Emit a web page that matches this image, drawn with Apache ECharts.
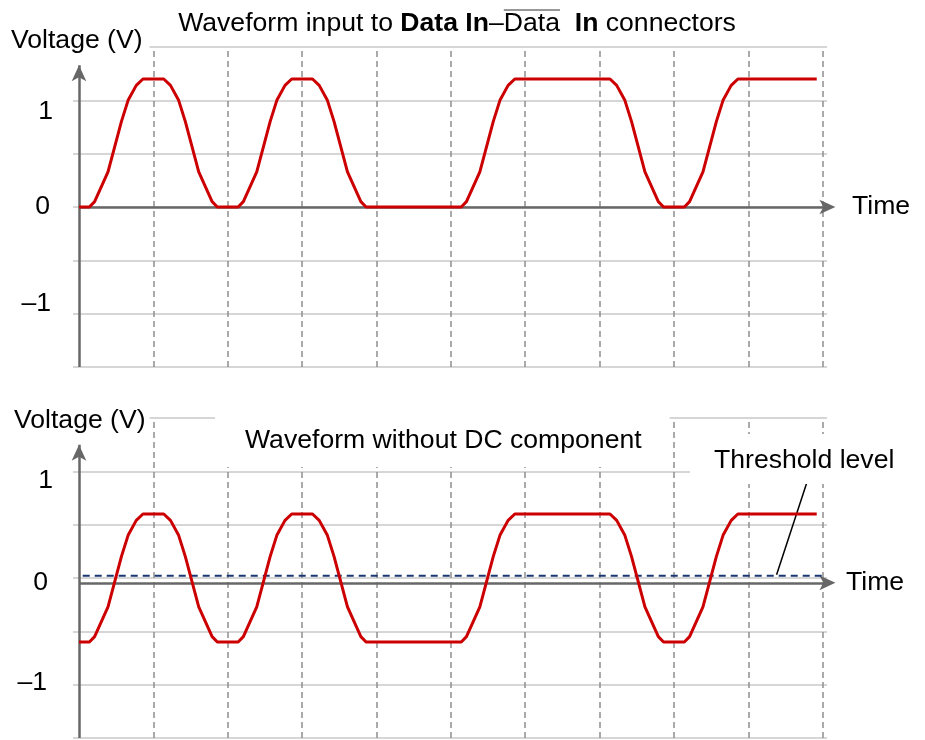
<!DOCTYPE html>
<html><head><meta charset="utf-8">
<script src="https://cdn.jsdelivr.net/npm/echarts@6/dist/echarts.min.js"></script>
<style>html,body{margin:0;padding:0;background:#fff}#c{width:925px;height:740px}</style>
</head><body><div id="c"></div>
<script>
// ---------- data ----------
const timeGridTicks = [1, 2, 3, 4, 5, 6, 7, 8, 9, 10];
const yTickValues = [1, 0, -1];
const yTickLabels = ['1', '0', '–1'];

// Waveform input to Data In – Data In connectors (time units, volts)
const topWave = [
  [0, 0], [0.14, 0], [0.21, 0.05], [0.39, 0.33], [0.57, 0.8], [0.66, 1.0], [0.77, 1.14], [0.86, 1.2],
  [1.14, 1.2], [1.23, 1.14], [1.34, 1.0], [1.43, 0.8], [1.61, 0.33], [1.79, 0.05], [1.86, 0],
  [2.14, 0], [2.21, 0.05], [2.39, 0.33], [2.57, 0.8], [2.66, 1.0], [2.77, 1.14], [2.86, 1.2],
  [3.14, 1.2], [3.23, 1.14], [3.34, 1.0], [3.43, 0.8], [3.61, 0.33], [3.79, 0.05], [3.86, 0],
  [5.14, 0], [5.21, 0.05], [5.39, 0.33], [5.57, 0.8], [5.66, 1.0], [5.77, 1.14], [5.86, 1.2],
  [7.14, 1.2], [7.23, 1.14], [7.34, 1.0], [7.43, 0.8], [7.61, 0.33], [7.79, 0.05], [7.86, 0],
  [8.14, 0], [8.21, 0.05], [8.39, 0.33], [8.57, 0.8], [8.66, 1.0], [8.77, 1.14], [8.86, 1.2],
  [9.92, 1.2]
];
// Waveform without DC component
const bottomWave = [
  [0, -0.6], [0.14, -0.6], [0.21, -0.55], [0.39, -0.27], [0.57, 0.2], [0.66, 0.4], [0.77, 0.54], [0.86, 0.6],
  [1.14, 0.6], [1.23, 0.54], [1.34, 0.4], [1.43, 0.2], [1.61, -0.27], [1.79, -0.55], [1.86, -0.6],
  [2.14, -0.6], [2.21, -0.55], [2.39, -0.27], [2.57, 0.2], [2.66, 0.4], [2.77, 0.54], [2.86, 0.6],
  [3.14, 0.6], [3.23, 0.54], [3.34, 0.4], [3.43, 0.2], [3.61, -0.27], [3.79, -0.55], [3.86, -0.6],
  [5.14, -0.6], [5.21, -0.55], [5.39, -0.27], [5.57, 0.2], [5.66, 0.4], [5.77, 0.54], [5.86, 0.6],
  [7.14, 0.6], [7.23, 0.54], [7.34, 0.4], [7.43, 0.2], [7.61, -0.27], [7.79, -0.55], [7.86, -0.6],
  [8.14, -0.6], [8.21, -0.55], [8.39, -0.27], [8.57, 0.2], [8.66, 0.4], [8.77, 0.54], [8.86, 0.6],
  [9.92, 0.6]
];
const thresholdLevel = 0.02;
const thresholdSpan = [0.05, 9.99];
const leaderLine = [[9.785, 0.89], [9.38, 0.03]];

// axis-line extents (data units)
const topTimeAxisLevel = 0;
const bottomTimeAxisLevel = -0.045;
const timeAxisEnd = 10.05;
const topYAxisSpan = [-1.5, 1.33];
const bottomYAxisSpan = [-1.5, 1.25];

// ---------- layout / style ----------
const FONT = '"Liberation Sans", Arial, sans-serif';
const FS = 26.6;
const xMin = -0.0807, xMax = 10.058;

const chart = echarts.init(document.getElementById('c'), null, {renderer: 'canvas'});

function yLabelFormatter(keys) {
  return function (v) {
    const i = yTickValues.findIndex(t => Math.abs(t - v) < 1e-9);
    if (i < 0) return '';
    return '{' + keys[i] + '|' + yTickLabels[i] + '}';
  };
}
const lblBase = {fontSize: FS, fontFamily: FONT, color: '#000', lineHeight: 30};
function yAxisDef(gi, keys, rich) {
  return {
    gridIndex: gi, type: 'value', min: -1.5, max: 1.5, interval: 0.5,
    axisLine: {show: false}, axisTick: {show: false},
    splitLine: {show: true, lineStyle: {color: '#c9c9c9', width: 1.5}},
    axisLabel: {margin: 20, fontSize: FS, fontFamily: FONT, color: '#000',
      formatter: yLabelFormatter(keys), rich: rich}
  };
}
function xAxisDef(gi) {
  return {gridIndex: gi, type: 'value', min: xMin, max: xMax, show: false};
}

function gridSeries(p) {
  return {
    type: 'line', xAxisIndex: p, yAxisIndex: p, data: [], z: 1, silent: true, animation: false,
    markLine: {
      z: 1, silent: true, symbol: 'none', animation: false, label: {show: false},
      lineStyle: {color: '#8f8f8f', type: [6, 4], width: 1.5},
      data: timeGridTicks.map(t => ({xAxis: t}))
    }
  };
}
function axesSeries(p, ySpan, tLevel) {
  return {
    type: 'line', xAxisIndex: p, yAxisIndex: p, data: [], z: 2, silent: true, animation: false,
    markLine: {
      z: 2, silent: true, animation: false, label: {show: false},
      symbol: ['none', 'arrow'], symbolSize: [11, 16],
      lineStyle: {color: '#676767', type: 'solid', width: 2.5},
      data: [
        [{coord: [0, ySpan[0]]}, {coord: [0, ySpan[1]]}],
        [{coord: [0, tLevel]}, {coord: [timeAxisEnd, tLevel], symbolOffset: [0, -9]}]
      ]
    }
  };
}
function waveSeries(p, data) {
  return {
    type: 'line', xAxisIndex: p, yAxisIndex: p, data: data, z: 6, symbol: 'none', silent: true,
    animation: false, lineStyle: {color: '#cc0000', width: 3, join: 'round'}
  };
}

// title measurement for overline
const cv = document.createElement('canvas').getContext('2d');
function mw(t, bold) { cv.font = (bold ? 'bold ' : '') + FS + 'px ' + FONT; return cv.measureText(t).width; }
const tParts = [['Waveform input to ', false], ['Data In', true], ['–', false], ['Data', false], ['  ', false], ['In', true], [' connectors', false]];
const tW = tParts.reduce((s, p) => s + mw(p[0], p[1]), 0);
const tX0 = 457 - tW / 2;
const olX1 = tX0 + mw(tParts[0][0], false) + mw(tParts[1][0], true) + mw(tParts[2][0], false);
const olX2 = olX1 + mw('Data', false);

function text(x, y, str, extra) {
  return {
    type: 'text', x: x, y: y, z: 100, silent: true,
    style: Object.assign({text: str, fontSize: FS, fontFamily: FONT, fill: '#000',
      align: 'left', verticalAlign: 'middle'}, extra || {})
  };
}

const option = {
  animation: false,
  backgroundColor: '#fff',
  grid: [
    {left: 73, top: 47, width: 754, height: 320},
    {left: 73, top: 418, width: 754, height: 320}
  ],
  xAxis: [xAxisDef(0), xAxisDef(1)],
  yAxis: [
    yAxisDef(0, ['a', 'b', 'c'], {
      a: Object.assign({padding: [22, 0, 0, 0]}, lblBase),
      b: Object.assign({padding: [0, 3, 0, 0]}, lblBase),
      c: Object.assign({padding: [0, 2, 20, 0]}, lblBase)
    }),
    yAxisDef(1, ['a', 'b', 'c'], {
      a: Object.assign({padding: [19, 0, 0, 0]}, lblBase),
      b: Object.assign({padding: [9, 5, 0, 0]}, lblBase),
      c: Object.assign({padding: [0, 6, 4, 0]}, lblBase)
    })
  ],
  series: [
    gridSeries(0), gridSeries(1),
    axesSeries(0, topYAxisSpan, topTimeAxisLevel),
    axesSeries(1, bottomYAxisSpan, bottomTimeAxisLevel),
    {
      type: 'line', xAxisIndex: 1, yAxisIndex: 1, z: 3, symbol: 'none', silent: true, animation: false,
      data: [[thresholdSpan[0], thresholdLevel], [thresholdSpan[1], thresholdLevel]],
      lineStyle: {color: '#1a3670', width: 2, type: [7, 5]}
    },
    {
      type: 'line', xAxisIndex: 1, yAxisIndex: 1, z: 6, symbol: 'none', silent: true, animation: false,
      data: leaderLine, lineStyle: {color: '#000', width: 1.5}
    },
    waveSeries(0, topWave),
    waveSeries(1, bottomWave)
  ],
  graphic: {elements: [
    {
      type: 'text', x: tX0, y: 24, z: 100, silent: true,
      style: {
        text: '{n|Waveform input to }{b|Data In}{n|–}{n|Data}{n|  }{b|In}{n| connectors}',
        align: 'left', verticalAlign: 'middle', fill: '#000', fontSize: FS, fontFamily: FONT,
        rich: {
          n: {fontSize: FS, fontFamily: FONT, fill: '#000'},
          b: {fontSize: FS, fontFamily: FONT, fill: '#000', fontWeight: 'bold'}
        }
      }
    },
    {type: 'line', z: 100, silent: true, shape: {x1: olX1, y1: 10, x2: olX2, y2: 10},
      style: {stroke: '#333', lineWidth: 1.2}},
    text(0, 41, 'Voltage (V)', {backgroundColor: '#fff', padding: [4, 7, 4, 11], lineHeight: 30}),
    text(852, 207, 'Time'),
    text(0, 421, 'Voltage (V)', {backgroundColor: '#fff', padding: [6, 4, 6, 14], lineHeight: 30}),
    text(215, 412, 'Waveform without DC component',
      {verticalAlign: 'top', backgroundColor: '#fff', padding: [14, 28, 11, 30], lineHeight: 30}),
    text(690, 434, 'Threshold level',
      {verticalAlign: 'top', backgroundColor: '#fff', padding: [12, 10, 8, 24], lineHeight: 30}),
    text(846, 583, 'Time')
  ]}
};
chart.setOption(option);
</script>
</body></html>
